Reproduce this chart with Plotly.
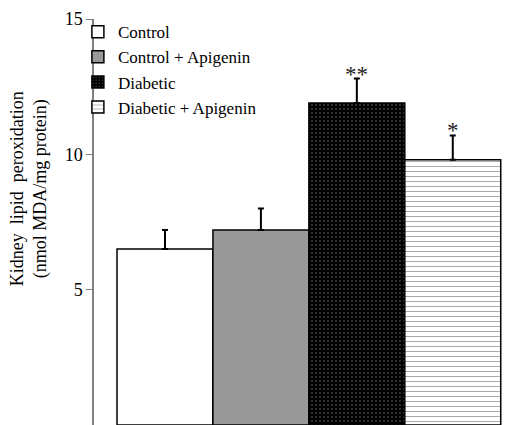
import plotly.graph_objects as go

categories = ["Control", "Control + Apigenin", "Diabetic", "Diabetic + Apigenin"]
values = [6.5, 7.2, 11.9, 9.8]
errors = [0.7, 0.8, 0.9, 0.9]
significance = ["", "", "**", "*"]
y_ticks = [0, 5, 10, 15]

fills = ["white", "#999999", "black", "white"]
patterns = [
    None,
    None,
    dict(shape=".", fgcolor="white", bgcolor="black", size=4, solidity=0.1),
    dict(shape="-", fgcolor="#555555", bgcolor="white", size=5, solidity=0.2),
]

FONT = "Liberation Serif, Times New Roman, serif"

fig = go.Figure()
for cat, val, err, fill, pat in zip(categories, values, errors, fills, patterns):
    marker = dict(color=fill, line=dict(color="black", width=1.5))
    if pat is not None:
        marker["pattern"] = pat
    fig.add_trace(go.Bar(
        x=[cat], y=[val], name=cat, width=1, marker=marker,
        error_y=dict(type="data", array=[err], arrayminus=[0], symmetric=False,
                     color="black", thickness=2, width=3),
    ))

for cat, val, err, sig in zip(categories, values, errors, significance):
    if sig:
        fig.add_annotation(x=cat, y=val + err, text=sig, showarrow=False,
                           yanchor="bottom", yshift=-10,
                           font=dict(family=FONT, size=23, color="#222222"))

fig.add_annotation(
    xref="paper", yref="paper", x=-0.153, y=0.581,
    text="Kidney  lipid  peroxidation<br>(nmol MDA/mg protein)",
    textangle=-90, showarrow=False, xanchor="center", yanchor="middle",
    font=dict(family=FONT, size=18, color="black"),
)

fig.update_layout(
    width=510, height=417,
    margin=dict(l=86, r=0, t=11, b=0),
    paper_bgcolor="white", plot_bgcolor="white",
    barmode="overlay",
    showlegend=True,
    legend=dict(x=-0.038, y=1.012, xanchor="left", yanchor="top",
                font=dict(family=FONT, size=17, color="black"),
                bgcolor="rgba(0,0,0,0)", itemwidth=30, tracegroupgap=0),
    font=dict(family=FONT, size=15, color="black"),
    xaxis=dict(type="category", range=[-0.74, 3.68], showticklabels=False,
               showline=False, showgrid=False, zeroline=False, ticks=""),
    yaxis=dict(range=[0, 15], tickvals=y_ticks, ticks="outside", ticklen=6,
               tickcolor="#808080", showline=True, linecolor="#808080", linewidth=1.5,
               showgrid=False, zeroline=False,
               tickfont=dict(family=FONT, size=18, color="black")),
)

fig.write_html("out.html")
